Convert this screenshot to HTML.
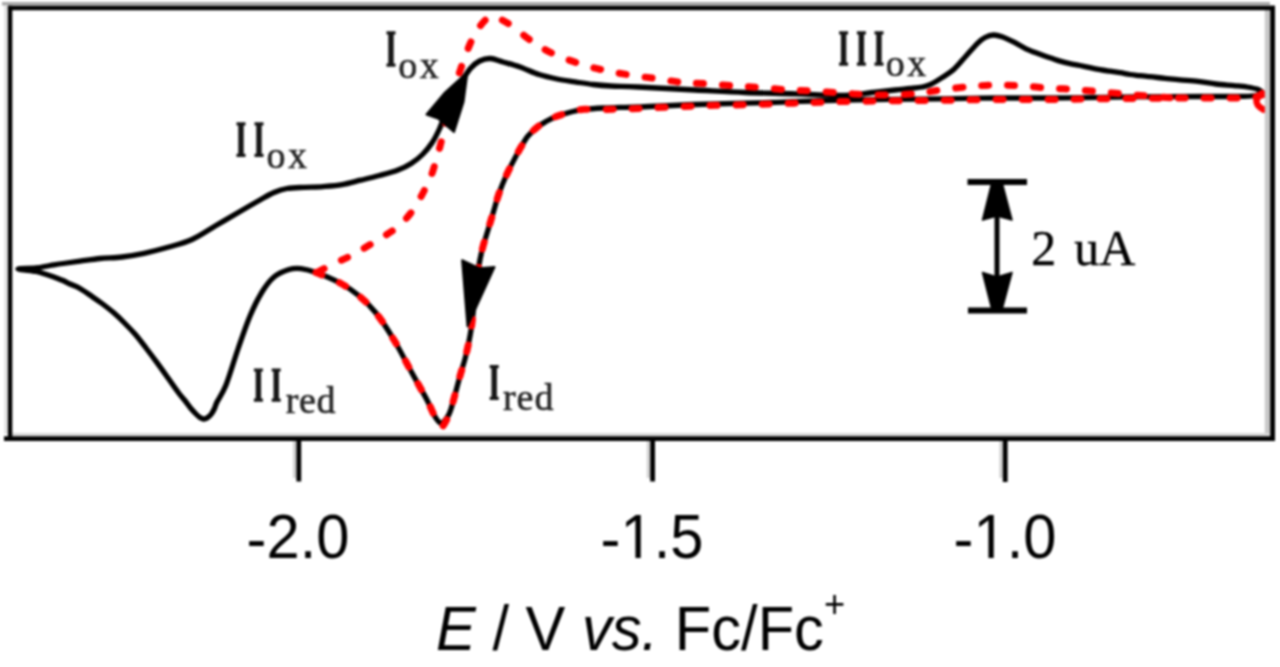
<!DOCTYPE html>
<html><head><meta charset="utf-8"><style>
html,body{margin:0;padding:0;background:#fff;}
body{width:1280px;height:667px;overflow:hidden;position:relative;}
svg{position:absolute;left:0;top:0;filter:blur(1.1px);}
</style></head><body>
<svg width="1280" height="667" viewBox="0 0 1280 667">
<rect x="-10" y="-10" width="1300" height="687" fill="#fff"/>
<g fill="none" stroke="#000" stroke-linejoin="round" stroke-linecap="round">
<path d="M1262.0 92.0 C1261.0 92.6 1259.3 94.8 1256.0 95.5 C1252.7 96.2 1249.7 96.2 1242.0 96.4 C1234.3 96.6 1222.0 96.5 1210.0 96.5 C1198.0 96.5 1188.3 96.5 1170.0 96.6 C1151.7 96.7 1120.2 97.1 1100.0 97.3 C1079.8 97.5 1066.5 97.9 1049.0 98.0 C1031.5 98.1 1013.2 97.9 995.0 98.0 C976.8 98.1 965.0 98.5 940.0 98.8 C915.0 99.1 873.3 99.4 845.0 100.0 C816.7 100.6 795.0 101.8 770.0 102.5 C745.0 103.2 717.0 103.8 695.0 104.5 C673.0 105.2 650.5 106.5 638.0 107.0 C625.5 107.5 625.8 107.2 620.0 107.4 C614.2 107.6 608.9 107.7 603.0 108.0 C597.1 108.3 589.1 108.8 584.4 109.3 C579.7 109.8 578.1 110.3 575.0 111.0 C571.9 111.7 568.7 112.6 565.6 113.5 C562.5 114.4 559.3 115.2 556.2 116.5 C553.1 117.8 550.0 119.2 546.9 121.0 C543.8 122.8 540.6 124.5 537.5 127.0 C534.4 129.5 530.8 132.7 528.0 136.0 C525.2 139.3 523.2 143.3 521.0 147.0 C518.8 150.7 517.5 153.2 515.0 158.0 C512.5 162.8 508.7 170.0 506.0 176.0 C503.3 182.0 500.9 188.0 498.8 194.0 C496.7 200.0 495.2 206.0 493.4 212.0 C491.6 218.0 489.8 224.0 488.0 230.0 C486.2 236.0 484.2 241.7 482.6 248.0 C481.0 254.3 479.9 258.5 478.5 268.0 C477.1 277.5 475.2 294.7 474.0 305.0 C472.8 315.3 472.3 321.7 471.0 330.0 C469.7 338.3 467.8 347.3 466.0 355.0 C464.2 362.7 462.5 367.0 460.0 376.0 C457.5 385.0 453.3 401.8 451.0 409.0 C448.7 416.2 447.8 416.7 446.0 419.0 C444.2 421.3 442.5 423.7 440.5 423.0 C438.5 422.3 436.2 418.8 434.0 415.0 C431.8 411.2 430.7 407.0 427.0 400.0 C423.3 393.0 417.5 383.0 412.0 373.0 C406.5 363.0 400.0 350.0 394.0 340.0 C388.0 330.0 382.0 320.5 376.0 313.0 C370.0 305.5 364.0 300.0 358.0 295.0 C352.0 290.0 347.0 286.8 340.0 283.0 C333.0 279.2 322.5 274.9 316.0 272.5 C309.5 270.1 305.5 269.1 301.0 268.6 C296.5 268.1 293.5 268.1 289.0 269.5 C284.5 270.9 278.5 273.2 274.0 277.0 C269.5 280.8 266.0 285.5 262.0 292.0 C258.0 298.5 254.0 306.5 250.0 316.0 C246.0 325.5 242.0 337.5 238.0 349.0 C234.0 360.5 229.5 376.2 226.0 385.0 C222.5 393.8 218.9 398.1 217.0 402.0 C215.1 405.9 215.5 406.4 214.5 408.5 C213.5 410.6 212.2 412.9 211.0 414.5 C209.8 416.1 208.2 417.2 207.0 418.0 C205.8 418.8 204.7 419.1 203.5 419.0 C202.3 418.9 201.2 418.3 200.0 417.5 C198.8 416.7 197.6 415.6 196.0 414.0 C194.4 412.4 192.2 410.0 190.5 408.0 C188.8 406.0 188.0 404.5 186.0 402.0 C184.0 399.5 181.7 397.0 178.7 393.0 C175.7 389.0 171.6 383.1 168.0 378.0 C164.4 372.9 160.7 367.6 157.0 362.6 C153.3 357.6 149.6 352.7 146.0 348.0 C142.4 343.3 138.9 338.6 135.2 334.3 C131.5 330.1 127.6 326.1 124.0 322.5 C120.4 318.9 117.2 315.8 113.5 312.6 C109.8 309.4 105.6 306.2 102.0 303.5 C98.4 300.8 95.4 298.8 91.7 296.3 C88.0 293.8 83.6 290.6 80.0 288.5 C76.4 286.4 72.8 285.3 70.0 284.0 C67.2 282.7 65.7 281.7 63.0 280.5 C60.3 279.3 57.0 278.1 54.0 277.0 C51.0 275.9 48.0 274.9 45.0 274.0 C42.0 273.1 40.5 272.3 36.0 271.5 C31.5 270.7 18.0 269.6 18.0 269.0 C18.0 268.4 30.7 268.6 36.0 268.0 C41.3 267.4 45.5 266.2 50.0 265.5 C54.5 264.8 58.0 264.2 63.0 263.5 C68.0 262.8 73.8 262.0 80.0 261.2 C86.2 260.4 93.0 259.2 100.0 258.5 C107.0 257.8 114.7 257.9 122.0 257.0 C129.3 256.1 136.3 254.9 144.0 253.3 C151.7 251.7 160.0 249.6 168.0 247.3 C176.0 245.0 184.0 243.1 192.0 239.5 C200.0 235.9 208.0 230.2 216.0 225.5 C224.0 220.8 232.7 215.8 240.0 211.5 C247.3 207.2 254.3 203.2 260.0 200.0 C265.7 196.8 269.5 194.4 274.0 192.5 C278.5 190.6 281.9 189.4 287.0 188.5 C292.1 187.6 298.4 187.6 304.4 187.3 C310.4 187.0 316.7 187.1 323.0 186.6 C329.3 186.1 335.7 185.7 342.0 184.6 C348.3 183.5 354.4 181.7 360.6 180.2 C366.8 178.7 373.2 177.2 379.4 175.5 C385.6 173.8 392.7 172.0 398.0 170.0 C403.3 168.0 407.2 166.1 411.2 163.5 C415.3 160.9 419.1 157.9 422.5 154.5 C425.9 151.1 429.1 147.2 431.9 143.0 C434.7 138.8 437.0 134.2 439.4 129.0 C441.8 123.8 443.6 117.7 446.0 112.0 C448.4 106.3 451.3 100.2 454.0 95.0 C456.7 89.8 459.2 85.5 462.0 81.0 C464.8 76.5 467.7 71.6 470.6 68.3 C473.5 65.0 476.3 62.6 479.6 61.0 C482.9 59.4 486.5 58.3 490.4 58.5 C494.3 58.7 498.1 60.6 503.0 62.0 C507.9 63.4 514.0 64.9 520.0 67.0 C526.0 69.1 532.8 72.6 539.0 74.6 C545.2 76.6 551.0 77.8 557.0 79.0 C563.0 80.2 569.0 80.9 575.0 81.8 C581.0 82.7 587.0 83.8 593.0 84.5 C599.0 85.2 603.5 85.6 611.0 86.0 C618.5 86.4 624.0 86.3 638.0 87.0 C652.0 87.7 677.2 89.1 695.0 90.0 C712.8 90.9 728.3 91.9 745.0 92.5 C761.7 93.1 778.3 93.3 795.0 93.8 C811.7 94.3 832.2 95.7 845.0 95.5 C857.8 95.3 863.7 93.4 872.0 92.5 C880.3 91.6 888.7 90.7 895.0 90.0 C901.3 89.3 905.5 89.0 910.0 88.5 C914.5 88.0 918.7 87.6 922.0 87.0 C925.3 86.4 926.7 86.3 930.0 84.7 C933.3 83.1 938.0 80.2 942.0 77.6 C946.0 75.0 950.0 72.8 954.0 69.2 C958.0 65.6 962.0 60.4 966.0 56.0 C970.0 51.6 974.8 45.9 978.0 42.8 C981.2 39.7 982.4 38.8 985.0 37.5 C987.6 36.2 990.7 35.1 993.5 35.0 C996.3 34.9 998.6 35.6 1002.0 36.8 C1005.4 38.0 1010.0 40.2 1014.0 42.2 C1018.0 44.2 1022.0 46.9 1026.0 48.8 C1030.0 50.7 1034.0 52.1 1038.0 53.6 C1042.0 55.1 1046.3 56.5 1050.0 57.8 C1053.7 59.0 1056.7 60.1 1060.0 61.1 C1063.3 62.1 1066.7 62.9 1070.0 63.6 C1073.3 64.3 1076.7 64.8 1080.0 65.5 C1083.3 66.2 1086.7 66.9 1090.0 67.6 C1093.3 68.3 1096.7 69.0 1100.0 69.6 C1103.3 70.2 1106.7 70.7 1110.0 71.2 C1113.3 71.7 1116.7 72.2 1120.0 72.7 C1123.3 73.2 1126.7 74.0 1130.0 74.5 C1133.3 75.0 1136.7 75.3 1140.0 75.7 C1143.3 76.1 1145.8 76.3 1150.0 76.7 C1154.2 77.1 1160.0 77.8 1165.0 78.3 C1170.0 78.8 1174.5 79.3 1180.0 79.8 C1185.5 80.3 1192.0 80.6 1198.0 81.3 C1204.0 82.0 1210.0 83.3 1216.0 84.0 C1222.0 84.7 1228.8 85.1 1234.0 85.6 C1239.2 86.1 1243.2 86.4 1247.0 87.0 C1250.8 87.6 1254.5 88.2 1257.0 89.0 C1259.5 89.8 1261.2 91.5 1262.0 92.0" stroke-width="5.3"/>
</g>
<g fill="none" stroke="#ff0000" stroke-width="7" stroke-dasharray="7 19" stroke-linecap="round">
<path d="M1262.0 93.5 C1261.0 94.1 1259.3 96.3 1256.0 97.0 C1252.7 97.7 1249.7 97.7 1242.0 97.9 C1234.3 98.1 1222.0 98.0 1210.0 98.0 C1198.0 98.0 1188.3 98.0 1170.0 98.1 C1151.7 98.2 1120.2 98.6 1100.0 98.8 C1079.8 99.0 1066.5 99.4 1049.0 99.5 C1031.5 99.6 1013.2 99.4 995.0 99.5 C976.8 99.6 965.0 100.0 940.0 100.3 C915.0 100.6 873.3 100.9 845.0 101.5 C816.7 102.1 795.0 103.2 770.0 104.0 C745.0 104.8 717.0 105.2 695.0 106.0 C673.0 106.8 650.5 108.0 638.0 108.5 C625.5 109.0 625.8 108.7 620.0 108.9 C614.2 109.1 608.9 109.4 603.0 109.5 C597.1 109.6 589.1 109.0 584.4 109.3 C579.7 109.5 578.1 110.3 575.0 111.0 C571.9 111.7 568.7 112.6 565.6 113.5 C562.5 114.4 559.3 115.2 556.2 116.5 C553.1 117.8 550.0 119.2 546.9 121.0 C543.8 122.8 540.6 124.5 537.5 127.0 C534.4 129.5 530.8 132.7 528.0 136.0 C525.2 139.3 523.2 143.3 521.0 147.0 C518.8 150.7 517.5 153.2 515.0 158.0 C512.5 162.8 508.7 170.0 506.0 176.0 C503.3 182.0 500.9 188.0 498.8 194.0 C496.7 200.0 495.2 206.0 493.4 212.0 C491.6 218.0 489.8 224.0 488.0 230.0 C486.2 236.0 484.2 241.7 482.6 248.0 C481.0 254.3 479.9 258.5 478.5 268.0 C477.1 277.5 475.2 294.7 474.0 305.0 C472.8 315.3 472.3 321.7 471.0 330.0 C469.7 338.3 467.8 347.3 466.0 355.0 C464.2 362.7 462.5 367.0 460.0 376.0 C457.5 385.0 453.2 401.7 451.0 409.0 C448.8 416.3 448.2 417.0 446.5 420.0 C444.8 423.0 442.9 427.5 441.0 427.0 C439.1 426.5 437.3 421.5 435.0 417.0 C432.7 412.5 430.8 407.3 427.0 400.0 C423.2 392.7 417.5 383.0 412.0 373.0 C406.5 363.0 400.0 350.0 394.0 340.0 C388.0 330.0 382.0 320.5 376.0 313.0 C370.0 305.5 364.0 300.0 358.0 295.0 C352.0 290.0 347.0 286.8 340.0 283.0 C333.0 279.2 320.0 274.2 316.0 272.5"/>
<path d="M318.0 272.0 C320.5 270.7 328.1 266.4 333.0 264.0 C337.9 261.6 343.1 259.6 347.6 257.4 C352.1 255.1 355.8 252.9 360.0 250.5 C364.2 248.1 368.5 245.6 372.8 243.0 C377.1 240.4 381.6 237.8 386.0 235.0 C390.4 232.2 394.9 229.4 398.9 225.9 C402.9 222.4 406.7 218.2 410.0 214.0 C413.3 209.8 416.2 204.9 418.7 200.7 C421.2 196.5 423.1 192.8 425.0 189.0 C426.9 185.2 428.7 182.2 430.4 178.0 C432.1 173.8 433.5 168.9 435.0 164.0 C436.5 159.1 437.7 155.0 439.4 148.8 C441.1 142.5 442.9 134.7 445.0 126.2 C447.1 117.8 449.5 107.2 452.0 98.0 C454.5 88.8 457.0 80.0 460.0 71.0 C463.0 62.0 467.0 51.0 470.0 44.0 C473.0 37.0 475.3 33.1 478.0 29.0 C480.7 24.9 483.7 21.5 486.0 19.5 C488.3 17.5 489.7 17.1 492.0 17.0 C494.3 16.9 496.7 17.5 500.0 19.0 C503.3 20.5 506.9 22.4 512.0 26.0 C517.1 29.6 524.2 36.0 530.8 40.5 C537.4 45.0 543.7 49.2 551.5 53.0 C559.3 56.8 569.1 60.2 577.6 63.0 C586.1 65.8 594.1 68.0 602.8 70.0 C611.5 72.0 620.6 73.5 629.7 75.0 C638.8 76.5 648.7 77.5 657.5 78.8 C666.3 80.0 674.2 81.7 682.5 82.5 C690.8 83.3 698.8 83.2 707.5 83.8 C716.2 84.4 726.2 85.4 735.0 86.0 C743.8 86.6 751.2 86.8 760.0 87.5 C768.8 88.2 778.8 89.4 787.5 90.0 C796.2 90.6 803.8 90.5 812.5 91.0 C821.2 91.5 831.2 92.4 840.0 93.0 C848.8 93.6 856.3 94.2 865.0 94.5 C873.7 94.8 883.3 95.2 892.0 95.0 C900.7 94.8 909.0 94.3 917.0 93.5 C925.0 92.7 931.1 91.2 940.0 90.0 C948.9 88.8 961.1 87.3 970.5 86.5 C979.9 85.7 988.0 85.1 996.6 85.0 C1005.2 84.9 1013.1 85.5 1021.9 86.0 C1030.7 86.5 1040.4 87.5 1049.3 88.1 C1058.2 88.7 1066.5 88.8 1075.3 89.5 C1084.1 90.2 1093.1 91.2 1102.0 92.0 C1110.9 92.8 1120.0 93.8 1128.8 94.5 C1137.6 95.2 1148.1 96.0 1155.0 96.5 C1161.9 97.0 1167.5 97.6 1170.0 97.8"/>
</g>
<path d="M1264.5 94.5 C1255 96 1253 104 1263.5 109.5" fill="none" stroke="#ff0000" stroke-width="6.5" stroke-linecap="round"/>
<g fill="#000" stroke="#000" stroke-width="2" stroke-linejoin="round">
<polygon points="467.5,72 445,92.5 426.5,114.5 438,118.5 454,132 463.5,102"/>
<polygon points="467.5,326.3 462.1,260.2 479.7,268.3 494.5,267"/>
</g>
<g fill="none" stroke-linecap="butt">
<line x1="2" y1="3.8" x2="1270" y2="3.8" stroke="#a8a8a8" stroke-width="3.6"/>
<line x1="6" y1="6" x2="6" y2="434" stroke="#e0e0e0" stroke-width="3.5"/>
<line x1="1267.5" y1="6" x2="1267.5" y2="434" stroke="#c8c8c8" stroke-width="5.4"/>
<line x1="8" y1="434.5" x2="1270" y2="434.5" stroke="#d8d8d8" stroke-width="3"/>
<line x1="294.5" y1="440" x2="294.5" y2="478" stroke="#d0d0d0" stroke-width="3"/>
<line x1="648.3" y1="440" x2="648.3" y2="478" stroke="#d0d0d0" stroke-width="3"/>
<line x1="1000.9" y1="440" x2="1000.9" y2="478" stroke="#d0d0d0" stroke-width="3"/>
</g>
<g stroke="#000" stroke-width="5" fill="none" stroke-linecap="butt">
<line x1="7.9" y1="8" x2="1275" y2="8" stroke-width="4.6"/>
<line x1="10.1" y1="5.7" x2="10.1" y2="440.8" stroke-width="4.4"/>
<line x1="1272.6" y1="5.7" x2="1272.6" y2="440.8" stroke-width="4.8"/>
<line x1="4" y1="438.6" x2="1275" y2="438.6" stroke-width="4.6"/>
<line x1="298.8" y1="438" x2="298.8" y2="481.5" stroke-width="4.8"/>
<line x1="652.6" y1="438" x2="652.6" y2="481.5" stroke-width="4.8"/>
<line x1="1005.2" y1="438" x2="1005.2" y2="482" stroke-width="4.8"/>
<line x1="967.5" y1="182" x2="1027" y2="182" stroke-width="6"/>
<line x1="968" y1="310.5" x2="1027" y2="310.5" stroke-width="6"/>
<line x1="997" y1="210" x2="997" y2="282" stroke-width="5"/>
</g>
<g fill="#000" stroke="#000" stroke-width="1.5" stroke-linejoin="round">
<polygon points="991.5,184 1002.5,184 1012,220 997,216 982.5,220"/>
<polygon points="991.5,308 1002.5,308 1012,272.5 997,277 982.5,272.5"/>
</g>
<g font-family="Liberation Serif">
<path d="M386.5 31.2 H395.5 V34.4 H393.7 V63.6 H395.5 V66.8 H386.5 V63.6 H388.3 V34.4 H386.5 Z" fill="#161616"/>
<text x="398.3" y="77.6" font-size="38" letter-spacing="2.5" fill="#262626" stroke="#262626" stroke-width="0.6">ox</text>
<path d="M236.5 122.2 H245.5 V125.4 H243.7 V153.8 H245.5 V157.0 H236.5 V153.8 H238.3 V125.4 H236.5 Z M254.5 122.2 H263.5 V125.4 H261.7 V153.8 H263.5 V157.0 H254.5 V153.8 H256.3 V125.4 H254.5 Z" fill="#161616"/>
<text x="266.5" y="167.5" font-size="38" letter-spacing="2.5" fill="#262626" stroke="#262626" stroke-width="0.6">ox</text>
<path d="M839.1 31.2 H848.1 V34.4 H846.3 V62.6 H848.1 V65.8 H839.1 V62.6 H840.9 V34.4 H839.1 Z M856.9 31.2 H865.9 V34.4 H864.1 V62.6 H865.9 V65.8 H856.9 V62.6 H858.7 V34.4 H856.9 Z M874.5 31.2 H883.5 V34.4 H881.7 V62.6 H883.5 V65.8 H874.5 V62.6 H876.3 V34.4 H874.5 Z" fill="#161616"/>
<text x="885.7" y="76.3" font-size="38" letter-spacing="2.5" fill="#262626" stroke="#262626" stroke-width="0.6">ox</text>
<path d="M253.9 368.4 H262.9 V371.6 H261.1 V398.6 H262.9 V401.8 H253.9 V398.6 H255.7 V371.6 H253.9 Z M271.7 368.4 H280.7 V371.6 H278.9 V398.6 H280.7 V401.8 H271.7 V398.6 H273.5 V371.6 H271.7 Z" fill="#161616"/>
<text x="285.7" y="413.0" font-size="38" letter-spacing="0.6" fill="#262626" stroke="#262626" stroke-width="0.6">red</text>
<path d="M489.7 365.0 H498.7 V368.2 H496.9 V396.8 H498.7 V400.0 H489.7 V396.8 H491.5 V368.2 H489.7 Z" fill="#161616"/>
<text x="502.9" y="410.0" font-size="38" letter-spacing="1.0" fill="#262626" stroke="#262626" stroke-width="0.6">red</text>

<text x="1031.3" y="265" font-size="50" fill="#000" stroke="#000" stroke-width="0.4">2</text>
<text x="1074.3" y="265" font-size="50" fill="#000" stroke="#000" stroke-width="0.4">uA</text>
</g>
<g font-family="Liberation Sans" fill="#000" font-size="62.5" text-anchor="middle">
<text transform="translate(298 558) scale(0.955 1)"><tspan dy="2">-</tspan><tspan dy="-2">2.0</tspan></text>
<g transform="translate(652 558) scale(0.955 1)"><text><tspan dy="2">-</tspan><tspan dy="-2" fill="transparent">1</tspan>.5</text><path transform="translate(-33.04 0) scale(0.030518 -0.030518)" d="M515 0H696V1409H530L197 1180V1010L515 1237Z"/></g>
<g transform="translate(1005 558) scale(0.955 1)"><text><tspan dy="2">-</tspan><tspan dy="-2" fill="transparent">1</tspan>.0</text><path transform="translate(-33.04 0) scale(0.030518 -0.030518)" d="M515 0H696V1409H530L197 1180V1010L515 1237Z"/></g>
</g>
<text transform="translate(436 650) scale(0.955 1)" font-family="Liberation Sans" font-size="62.5" fill="#000"><tspan font-style="italic">E</tspan> / V <tspan font-style="italic">vs.</tspan> Fc/Fc<tspan font-size="38" dy="-33">+</tspan></text>
</svg>
</body></html>
